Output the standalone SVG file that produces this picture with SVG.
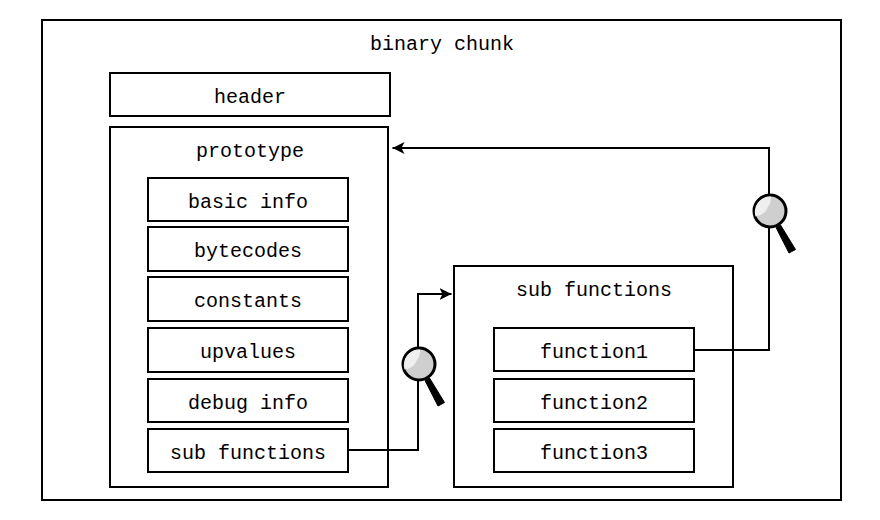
<svg xmlns="http://www.w3.org/2000/svg" width="880" height="520" viewBox="0 0 880 520">
<style>
.b{fill:#fff;stroke:#000;stroke-width:2}
text{font-family:"Liberation Mono",monospace;font-size:20px;fill:#000;text-anchor:middle}
.c{fill:none;stroke:#000;stroke-width:2}
</style>
<defs>
<marker id="a" markerUnits="userSpaceOnUse" markerWidth="13" markerHeight="13" refX="12" refY="6.500" orient="auto"><path d="M12 6.500L0 0.500L3 6.500L0 12.500Z" fill="#000"/></marker>
<g id="m">
<path d="M6 16.500L10.500 14L25.500 38.500L19 42Z" fill="#000" stroke="#000" stroke-width="1" stroke-linejoin="round"/>
<circle cx="0" cy="0" r="16" fill="#cfcfcf" stroke="#000" stroke-width="3"/>
<path d="M-14.500 5.500A15.500 15.500 0 0 1 1 -14.500A15 15 0 0 1 -2 -4A15 15 0 0 1 -14.500 5.500Z" fill="#efefef"/>
</g>
</defs>
<rect width="880" height="520" fill="#fff"/>
<g id="binary-chunk"><rect class="b" x="42" y="20" width="799" height="480"/><text x="442" y="49.500">binary chunk</text></g>
<g id="header"><rect class="b" x="110" y="73" width="280" height="43"/><text x="250" y="102.500">header</text></g>
<g id="prototype"><rect class="b" x="110" y="127" width="278" height="360"/><text x="250" y="156.500">prototype</text></g>
<g id="basic-info"><rect class="b" x="148" y="178" width="200" height="43"/><text x="248" y="207.500">basic info</text></g>
<g id="bytecodes"><rect class="b" x="148" y="227" width="200" height="44"/><text x="248" y="256.500">bytecodes</text></g>
<g id="constants"><rect class="b" x="148" y="277" width="200" height="44"/><text x="248" y="306.500">constants</text></g>
<g id="upvalues"><rect class="b" x="148" y="328" width="200" height="44"/><text x="248" y="357.500">upvalues</text></g>
<g id="debug-info"><rect class="b" x="148" y="379" width="200" height="43"/><text x="248" y="408.500">debug info</text></g>
<g id="sub-functions-item"><rect class="b" x="148" y="429" width="200" height="43"/><text x="248" y="458.500">sub functions</text></g>
<g id="sub-functions"><rect class="b" x="454" y="266" width="279" height="221"/><text x="594" y="295.500">sub functions</text></g>
<g id="function1"><rect class="b" x="494" y="328" width="200" height="43"/><text x="594" y="357.500">function1</text></g>
<g id="function2"><rect class="b" x="494" y="379" width="200" height="43"/><text x="594" y="408.500">function2</text></g>
<g id="function3"><rect class="b" x="494" y="429" width="200" height="43"/><text x="594" y="458.500">function3</text></g>
<g id="connectors">
<path class="c" d="M348 450H418V294H451.500" marker-end="url(#a)"/>
<path class="c" d="M694 350H769V148H392.500" marker-end="url(#a)"/>
</g>
<g id="magnifier-1"><use href="#m" x="419" y="364"/></g>
<g id="magnifier-2"><use href="#m" x="770" y="211"/></g>
</svg>
